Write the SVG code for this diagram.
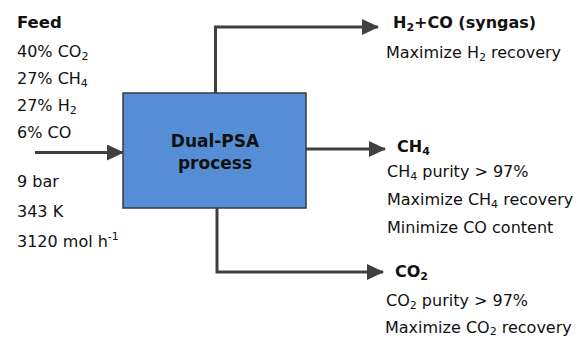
<svg xmlns="http://www.w3.org/2000/svg" width="578" height="339" viewBox="0 0 578 339">
<style>
text{font-family:"DejaVu Sans","Verdana",sans-serif;font-size:16px;fill:#111}
.b{font-weight:bold}
.sub{font-size:11px}
.conn{fill:none;stroke:#404040;stroke-width:3}
</style>
<defs>
<marker id="ah" markerWidth="17" markerHeight="16" refX="16" refY="8" orient="auto" markerUnits="userSpaceOnUse">
<path d="M0,0 L17,8 L0,16 Z" fill="#404040"/>
</marker>
</defs>
<rect width="578" height="339" fill="#fff"/>
<g id="connectors">
<path class="conn" d="M35,152.5 H123" marker-end="url(#ah)"/>
<path class="conn" d="M215.5,93 V27 H378" marker-end="url(#ah)"/>
<path class="conn" d="M306,149 H385" marker-end="url(#ah)"/>
<path class="conn" d="M217,208 V272 H383" marker-end="url(#ah)"/>
</g>
<g id="process">
<rect x="123" y="93" width="183" height="115" fill="#558ed5" stroke="#3a3a3a" stroke-width="1.5"/>
<text class="b" x="215" y="147" text-anchor="middle" style="font-size:17px">Dual-PSA</text>
<text class="b" x="215" y="169" text-anchor="middle" style="font-size:17px">process</text>
</g>
<g id="feed">
<text class="b" x="17" y="28" style="font-size:16.5px">Feed</text>
<text x="17" y="57">40% CO<tspan class="sub" dy="3">2</tspan></text>
<text x="17" y="84">27% CH<tspan class="sub" dy="3">4</tspan></text>
<text x="17" y="111">27% H<tspan class="sub" dy="3">2</tspan></text>
<text x="17" y="138">6% CO</text>
<text x="17" y="187">9 bar</text>
<text x="17" y="217">343 K</text>
<text x="17" y="247">3120 mol h<tspan class="sub" dy="-7">-1</tspan></text>
</g>
<g id="syngas">
<text class="b" x="393" y="28">H<tspan class="sub" dy="3">2</tspan><tspan dy="-3">+CO (syngas)</tspan></text>
<text x="386" y="58">Maximize H<tspan class="sub" dy="3">2</tspan><tspan dy="-3"> recovery</tspan></text>
</g>
<g id="ch4">
<text class="b" x="397" y="152">CH<tspan class="sub" dy="3">4</tspan></text>
<text x="387" y="177">CH<tspan class="sub" dy="3">4</tspan><tspan dy="-3"> purity &gt; 97%</tspan></text>
<text x="387" y="205">Maximize CH<tspan class="sub" dy="3">4</tspan><tspan dy="-3"> recovery</tspan></text>
<text x="387" y="233">Minimize CO content</text>
</g>
<g id="co2">
<text class="b" x="395" y="277">CO<tspan class="sub" dy="3">2</tspan></text>
<text x="386" y="306">CO<tspan class="sub" dy="3">2</tspan><tspan dy="-3"> purity &gt; 97%</tspan></text>
<text x="385" y="333">Maximize CO<tspan class="sub" dy="2">2</tspan><tspan dy="-2"> recovery</tspan></text>
</g>
</svg>
